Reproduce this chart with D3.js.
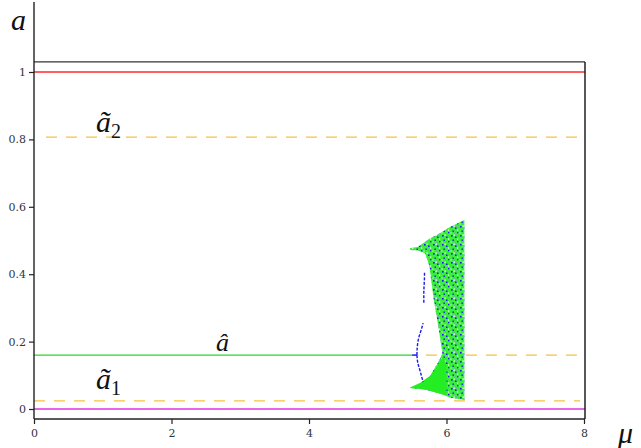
<!DOCTYPE html>
<html><head><meta charset="utf-8">
<script src="https://cdn.jsdelivr.net/npm/d3@7"></script>
<style>body{margin:0;background:#fff;} svg{display:block;}</style>
</head><body>
<svg id="c" width="641" height="448"></svg>
<script>
// ---- data ----
const xTicks = [0, 2, 4, 6, 8];
const yTicks = [0, 0.2, 0.4, 0.6, 0.8, 1];
const aTop = 1.03;          // black upper boundary
const aRed = 1;             // red line
const aTilde2 = 0.807;      // dashed
const aHat = 0.16;          // stable fixed point
const aTilde1 = 0.024;      // dashed
const aZero = 0;            // magenta
const muBif = 5.50;         // end of stable green line
const muDashStart = 5.70;   // dashed continuation of a-hat
// blue period-doubling branches (mu, a)
const blueJoin = [[5.50,0.16],[5.57,0.16]];
const blueUpper = [[5.57,0.16],[5.575,0.184],[5.60,0.214],[5.64,0.240],[5.66,0.255]];
const blueLower = [[5.57,0.16],[5.58,0.140],[5.62,0.110],[5.66,0.080]];
const blueHigh = [[5.67,0.315],[5.67,0.345],[5.675,0.37],[5.68,0.395],[5.68,0.405]];
// chaotic band envelope (mu, a), traced around
const chaosBand = [[5.47,0.478],[5.58,0.481],[5.75,0.505],[5.91,0.522],[6.05,0.540],[6.26,0.561],
  [6.26,0.027],[6.05,0.034],[5.91,0.045],[5.69,0.058],[5.47,0.062],
  [5.61,0.074],[5.76,0.098],[5.88,0.139],[5.94,0.165],[5.89,0.234],[5.81,0.330],[5.75,0.425],
  [5.69,0.462],[5.58,0.470],[5.47,0.472]];
const lowerFan = [[5.47,0.064],[5.62,0.078],[5.76,0.098],[5.86,0.125],[5.95,0.155],[6.0,0.13],
  [6.0,0.04],[5.91,0.045],[5.69,0.058],[5.47,0.062]];

// ---- drawing ----
const svg = d3.select('#c');
const x = d3.scaleLinear().domain([0, 8]).range([34, 584]);
const y = d3.scaleLinear().domain([0, 1]).range([409, 72]);
const L = 34, R = 585;

const defs = svg.append('defs');
const pat = defs.append('pattern').attr('id','chaos').attr('patternUnits','userSpaceOnUse')
  .attr('width',9).attr('height',9);
pat.append('rect').attr('width',9).attr('height',9).attr('fill','#3aee3a');
[[1,1,1.6],[5,2.5,1.5],[2.5,5.5,1.4],[7,7,1.3]].forEach(p=>pat.append('rect').attr('x',p[0]).attr('y',p[1]).attr('width',p[2]).attr('height',p[2]).attr('fill','#1818e8'));
[[3.5,0.5,1.3],[7,4.5,1.2],[0.5,7.5,1]].forEach(p=>pat.append('rect').attr('x',p[0]).attr('y',p[1]).attr('width',p[2]).attr('height',p[2]).attr('fill','#ffffff'));
[[6,0.5,1],[4,7.5,1]].forEach(p=>pat.append('rect').attr('x',p[0]).attr('y',p[1]).attr('width',p[2]).attr('height',p[2]).attr('fill','#9090f0'));

const pat2 = defs.append('pattern').attr('id','fan').attr('patternUnits','userSpaceOnUse')
  .attr('width',10).attr('height',10);
pat2.append('rect').attr('width',10).attr('height',10).attr('fill','#22ee22');
[[3,3,1.3],[8,7,1.2]].forEach(p=>pat2.append('rect').attr('x',p[0]).attr('y',p[1]).attr('width',p[2]).attr('height',p[2]).attr('fill','#55c855'));

const line = d3.line().x(d=>x(d[0])).y(d=>y(d[1]));

// horizontal lines
function hline(a, x0, x1, color, w, dash){
  svg.append('line').attr('x1',x0).attr('x2',x1).attr('y1',y(a)).attr('y2',y(a))
    .attr('stroke',color).attr('stroke-width',w).attr('stroke-dasharray',dash||null);
}
hline(aRed, L, R, '#ff2a2a', 1.3);
hline(aTilde2, x(0)+12, x(8)-4, '#f5c242', 1.3, '11,9');
hline(aTilde1, L, x(8)-4, '#f5c242', 1.3, '11,9');
hline(aZero, L, R, '#e030e0', 1.3);
hline(aHat, L, x(muBif), '#22dd22', 1.3);
hline(aHat, x(muDashStart), x(8)-4, '#f5c242', 1.3, '11,9');

// chaos band
svg.append('path').attr('d', line(chaosBand)+'Z').attr('fill','url(#chaos)');
svg.append('path').attr('d', line(lowerFan)+'Z').attr('fill','url(#fan)');

// blue branches
svg.append('path').attr('d',line(blueJoin)).attr('fill','none').attr('stroke','#1a1aee').attr('stroke-width',1.5);
[blueUpper, blueLower, blueHigh].forEach(p=>svg.append('path').attr('d',d3.line().curve(d3.curveMonotoneY).x(d=>x(d[0])).y(d=>y(d[1]))(p))
  .attr('fill','none').attr('stroke','#1a1aee').attr('stroke-width',1.4).attr('stroke-dasharray','3,1.5'));

// box / axes
svg.append('line').attr('x1',L).attr('x2',R).attr('y1',y(aTop)).attr('y2',y(aTop)).attr('stroke','#333').attr('stroke-width',1.4);
svg.append('line').attr('x1',R).attr('x2',R).attr('y1',y(aTop)).attr('y2',419).attr('stroke','#111').attr('stroke-width',1.4);

const yAx = svg.append('g').attr('transform',`translate(${L},0)`)
  .call(d3.axisLeft(y).tickValues(yTicks).tickSize(5).tickFormat(d3.format('~g')));
yAx.select('.domain').attr('d', `M0,2V419`);
const xAx = svg.append('g').attr('transform',`translate(0,419)`)
  .call(d3.axisBottom(x).tickValues(xTicks).tickSize(5).tickFormat(d3.format('d')));
xAx.select('.domain').attr('d', `M${L},0H${R}`);
[yAx, xAx].forEach(g=>{
  g.selectAll('.domain').attr('stroke','#222').attr('stroke-width',1.4);
  g.selectAll('.tick line').attr('stroke','#222').attr('stroke-width',1.2);
  g.selectAll('.tick text').attr('fill','#334').attr('font-family','DejaVu Serif, serif').attr('font-size',11);
});
yAx.selectAll('.tick text').attr('x',-8);
xAx.selectAll('.tick text').attr('y',10);

// labels
const lab = (tx, ty, s, fs) => svg.append('text').attr('x',tx).attr('y',ty)
  .attr('font-family','Liberation Serif, serif').attr('font-style','italic').attr('font-size',fs).attr('fill','#111').text(s);
lab(11, 30, 'a', 30);
lab(618, 443, 'μ', 30);
lab(216, 351, 'â', 26);
const t2 = lab(96, 132, 'ã', 30); t2.append('tspan').attr('font-style','normal').attr('font-size',20).attr('dy',6).text('2');
const t1 = lab(96, 389, 'ã', 30); t1.append('tspan').attr('font-style','normal').attr('font-size',20).attr('dy',6).text('1');
</script>
</body></html>
